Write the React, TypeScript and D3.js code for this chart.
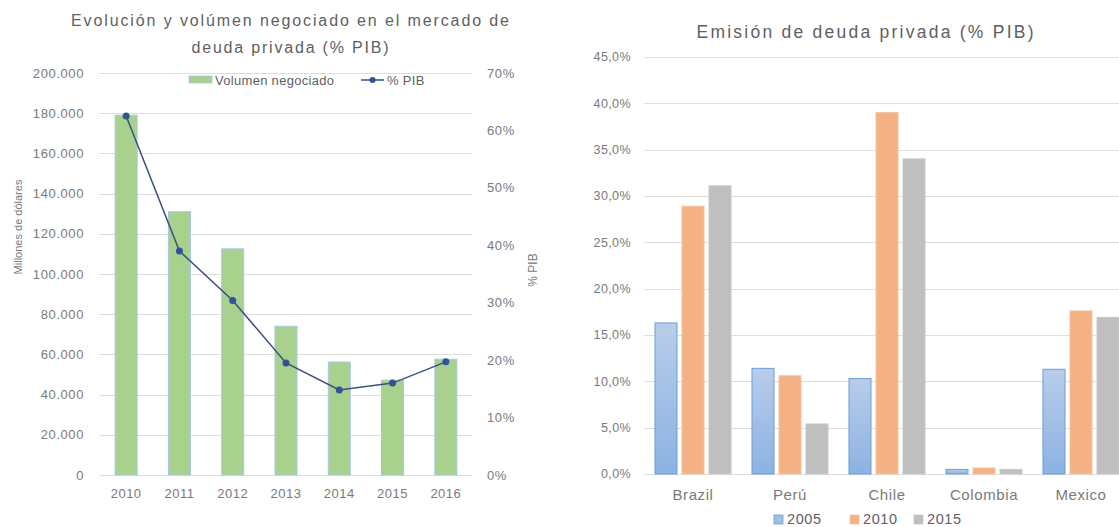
import { useEffect, useRef } from 'react';
import * as d3 from 'd3';

// left chart data
const years = ['2010', '2011', '2012', '2013', '2014', '2015', '2016'];
const volumen = [179000, 131000, 112500, 74000, 56200, 47200, 57600];
const pctPib = [62.5, 39.0, 30.4, 19.5, 14.8, 16.0, 19.7];
const leftTicks = [0, 20000, 40000, 60000, 80000, 100000, 120000, 140000, 160000, 180000, 200000];
const rightTicks = [0, 10, 20, 30, 40, 50, 60, 70];

// right chart data
const countries = ['Brazil', 'Perú', 'Chile', 'Colombia', 'Mexico'];
const seriesYears = ['2005', '2010', '2015'];
const emision2005 = [16.3, 11.4, 10.3, 0.5, 11.3];
const emision2010 = [28.9, 10.6, 39.0, 0.65, 17.6];
const emision2015 = [31.1, 5.4, 34.0, 0.5, 16.9];
const emisionTicks = [0, 5, 10, 15, 20, 25, 30, 35, 40, 45];

const FONT = 'Liberation Sans, Arial, sans-serif';
const TXT = '#5f5f5f';
const TICK = '#7a7a7a';
const GRID = '#dedede';

export default function App() {
  const ref = useRef<SVGSVGElement>(null);

  useEffect(() => {
    const svg = d3.select(ref.current);
    svg.selectAll('*').remove();

    const defs = svg.append('defs');
    const grad = defs.append('linearGradient').attr('id', 'blueGrad')
      .attr('x1', 0).attr('y1', 0).attr('x2', 0).attr('y2', 1);
    grad.append('stop').attr('offset', '0%').attr('stop-color', '#b8cdea');
    grad.append('stop').attr('offset', '100%').attr('stop-color', '#8cb2e2');

    // ---------- LEFT CHART ----------
    const L = svg.append('g');
    const x = d3.scaleBand().domain(years).range([99.5, 472.5]).paddingInner(0.587).paddingOuter(0.2935);
    const yL = d3.scaleLinear().domain([0, 200000]).range([475, 73]);
    const yR = d3.scaleLinear().domain([0, 70]).range([475, 73]);

    L.append('text').attr('x', 290).attr('y', 26).attr('text-anchor', 'middle')
      .attr('font-family', FONT).attr('font-size', 16).attr('fill', TXT)
      .attr('textLength', 438).attr('lengthAdjust', 'spacing')
      .text('Evolución y volúmen negociado en el mercado de');
    L.append('text').attr('x', 290).attr('y', 53).attr('text-anchor', 'middle')
      .attr('font-family', FONT).attr('font-size', 16).attr('fill', TXT)
      .attr('textLength', 197).attr('lengthAdjust', 'spacing')
      .text('deuda privada (% PIB)');

    leftTicks.forEach(t => {
      L.append('line').attr('x1', 99.5).attr('x2', 472.5)
        .attr('y1', Math.round(yL(t)) + 0.5).attr('y2', Math.round(yL(t)) + 0.5)
        .attr('stroke', GRID).attr('stroke-width', 1);
      L.append('text').attr('x', 84).attr('y', yL(t)).attr('dy', '0.35em')
        .attr('text-anchor', 'end').attr('font-family', FONT).attr('font-size', 13)
        .attr('letter-spacing', 0.6).attr('fill', TICK)
        .text(d3.format(',')(t).replace(/,/g, '.'));
    });
    rightTicks.forEach(t => {
      L.append('text').attr('x', 487).attr('y', yR(t)).attr('dy', '0.35em')
        .attr('font-family', FONT).attr('font-size', 13).attr('letter-spacing', 0.6)
        .attr('fill', TICK).text(`${t}%`);
    });

    L.selectAll('rect.vol').data(volumen).enter().append('rect')
      .attr('x', (_, i) => x(years[i])!)
      .attr('y', d => yL(d))
      .attr('width', x.bandwidth())
      .attr('height', d => yL(0) - yL(d))
      .attr('fill', '#a9d18e').attr('stroke', '#a6c8e4').attr('stroke-width', 1);

    const line = d3.line<number>()
      .x((_, i) => x(years[i])! + x.bandwidth() / 2)
      .y(d => yR(d));
    L.append('path').datum(pctPib).attr('d', line)
      .attr('fill', 'none').attr('stroke', '#3a5080').attr('stroke-width', 1.5);
    L.selectAll('circle.pib').data(pctPib).enter().append('circle')
      .attr('cx', (_, i) => x(years[i])! + x.bandwidth() / 2)
      .attr('cy', d => yR(d)).attr('r', 3.5).attr('fill', '#2f5597');

    years.forEach(yr => {
      L.append('text').attr('x', x(yr)! + x.bandwidth() / 2).attr('y', 493).attr('dy', '0.35em')
        .attr('text-anchor', 'middle').attr('font-family', FONT).attr('font-size', 13)
        .attr('letter-spacing', 0.5).attr('fill', TICK).text(yr);
    });

    L.append('text').attr('transform', 'translate(22,227) rotate(-90)')
      .attr('text-anchor', 'middle').attr('font-family', FONT).attr('font-size', 11)
      .attr('fill', TICK).text('Millones de dólares');
    L.append('text').attr('transform', 'translate(537,270) rotate(-90)')
      .attr('text-anchor', 'middle').attr('font-family', FONT).attr('font-size', 12)
      .attr('fill', TICK).text('% PIB');

    // legend
    L.append('rect').attr('x', 189).attr('y', 76).attr('width', 23).attr('height', 7)
      .attr('fill', '#a9d18e').attr('stroke', '#a6c8e4').attr('stroke-width', 0.8);
    L.append('text').attr('x', 215).attr('y', 80).attr('dy', '0.35em')
      .attr('font-family', FONT).attr('font-size', 13).attr('letter-spacing', 0.3)
      .attr('fill', TXT).text('Volumen negociado');
    L.append('line').attr('x1', 361).attr('x2', 384).attr('y1', 80).attr('y2', 80)
      .attr('stroke', '#3a5080').attr('stroke-width', 1.5);
    L.append('circle').attr('cx', 372.5).attr('cy', 80).attr('r', 3).attr('fill', '#2f5597');
    L.append('text').attr('x', 387).attr('y', 80).attr('dy', '0.35em')
      .attr('font-family', FONT).attr('font-size', 13).attr('letter-spacing', 0.3)
      .attr('fill', TXT).text('% PIB');

    // ---------- RIGHT CHART ----------
    const R = svg.append('g');
    const xc = d3.scaleBand().domain(countries).range([644.5, 1129.5]).paddingInner(0.216).paddingOuter(0.108);
    const xs = d3.scaleBand().domain(seriesYears).range([0, xc.bandwidth()]).paddingInner(0.185);
    const y2 = d3.scaleLinear().domain([0, 45]).range([474, 57]);
    const series = [emision2005, emision2010, emision2015];
    const fills = ['url(#blueGrad)', '#f4b183', '#bfbfbf'];
    const strokes = ['#6a9fd8', '#f7c3a0', '#c8c8c8'];
    const legendFills = ['#9fbfe6', '#f4b183', '#bfbfbf'];

    R.append('text').attr('x', 865).attr('y', 38).attr('text-anchor', 'middle')
      .attr('font-family', FONT).attr('font-size', 17.5).attr('fill', TXT)
      .attr('textLength', 337).attr('lengthAdjust', 'spacing')
      .text('Emisión de deuda privada (% PIB)');

    emisionTicks.forEach(t => {
      R.append('line').attr('x1', 644).attr('x2', 1119)
        .attr('y1', Math.round(y2(t)) + 0.5).attr('y2', Math.round(y2(t)) + 0.5)
        .attr('stroke', GRID).attr('stroke-width', 1);
      R.append('text').attr('x', 631).attr('y', y2(t)).attr('dy', '0.35em')
        .attr('text-anchor', 'end').attr('font-family', FONT).attr('font-size', 12.5)
        .attr('letter-spacing', 0.4).attr('fill', TICK)
        .text(d3.format('.1f')(t).replace('.', ',') + '%');
    });

    series.forEach((vals, s) => {
      R.selectAll(`rect.s${s}`).data(vals).enter().append('rect')
        .attr('x', (_, i) => xc(countries[i])! + xs(seriesYears[s])!)
        .attr('y', d => y2(d))
        .attr('width', xs.bandwidth())
        .attr('height', d => y2(0) - y2(d))
        .attr('fill', fills[s]).attr('stroke', strokes[s]).attr('stroke-width', 1);
    });

    countries.forEach(c => {
      R.append('text').attr('x', xc(c)! + xc.bandwidth() / 2).attr('y', 495).attr('dy', '0.35em')
        .attr('text-anchor', 'middle').attr('font-family', FONT).attr('font-size', 15)
        .attr('letter-spacing', 0.6).attr('fill', TICK).text(c);
    });

    const legendX = [774, 850, 914];
    seriesYears.forEach((yr, s) => {
      R.append('rect').attr('x', legendX[s]).attr('y', 515).attr('width', 9).attr('height', 9)
        .attr('fill', legendFills[s]).attr('stroke', strokes[s]).attr('stroke-width', 0.8);
      R.append('text').attr('x', legendX[s] + 13).attr('y', 524).attr('font-family', FONT)
        .attr('font-size', 14.5).attr('letter-spacing', 0.6)
        .attr('fill', TXT).text(yr);
    });
  }, []);

  return (
    <div style={{ position: 'fixed', left: 0, top: 0, width: 1119, height: 527, background: '#fff' }}>
      <svg ref={ref} width={1119} height={527} style={{ display: 'block' }} />
    </div>
  );
}
